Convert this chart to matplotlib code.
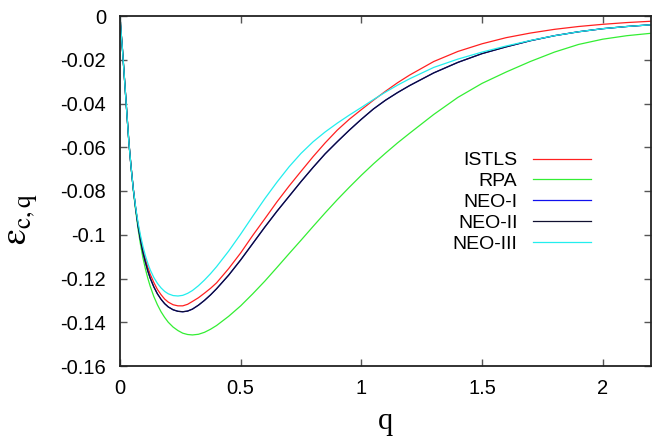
import matplotlib
matplotlib.use("Agg")
import matplotlib.pyplot as plt
from matplotlib.ticker import FixedLocator, FixedFormatter

# ---- data ----
q = [0, 0.005, 0.01, 0.015, 0.02, 0.025, 0.03, 0.037, 0.045, 0.055, 0.065, 0.075,
     0.085, 0.095, 0.105, 0.115, 0.125, 0.14, 0.155, 0.17, 0.185, 0.2, 0.22, 0.24,
     0.26, 0.28, 0.3, 0.325, 0.35, 0.375, 0.4, 0.45, 0.5, 0.55, 0.6, 0.65, 0.7, 0.75,
     0.8, 0.85, 0.9, 0.95, 1.0, 1.05, 1.1, 1.15, 1.2, 1.3, 1.4, 1.5, 1.6, 1.7, 1.8,
     1.9, 2.0, 2.1, 2.2]

istls = [0, -0.008, -0.015, -0.023, -0.031, -0.039, -0.047, -0.058, -0.068, -0.079,
         -0.088, -0.0955, -0.1015, -0.1068, -0.1110, -0.1148, -0.1180, -0.1218, -0.1250,
         -0.1274, -0.1294, -0.1308, -0.1320, -0.1325, -0.1325, -0.1318, -0.1305, -0.1288,
         -0.1267, -0.1245, -0.1220, -0.1155, -0.1083, -0.1003, -0.0927, -0.0850, -0.0778,
         -0.0710, -0.0643, -0.0580, -0.0522, -0.0472, -0.0428, -0.0385, -0.0344, -0.0305,
         -0.0270, -0.0208, -0.0162, -0.0127, -0.0099, -0.0078, -0.0061, -0.0048, -0.0038,
         -0.0030, -0.0024]

rpa = [0, -0.008, -0.015, -0.023, -0.031, -0.039, -0.047, -0.058, -0.068, -0.0795,
       -0.089, -0.0975, -0.1045, -0.1105, -0.1155, -0.1198, -0.1235, -0.1282, -0.1320,
       -0.1352, -0.1378, -0.1400, -0.1422, -0.1438, -0.1450, -0.1456, -0.1458, -0.1455,
       -0.1446, -0.1432, -0.1415, -0.1373, -0.1325, -0.1270, -0.1212, -0.1150, -0.1087,
       -0.1025, -0.0962, -0.0900, -0.0840, -0.0783, -0.0728, -0.0676, -0.0627, -0.0580,
       -0.0536, -0.0450, -0.0372, -0.0308, -0.0256, -0.0208, -0.0165, -0.0130, -0.0106,
       -0.0090, -0.0079]

neo1 = [0, -0.008, -0.015, -0.023, -0.031, -0.039, -0.047, -0.058, -0.068, -0.079,
        -0.088, -0.0960, -0.1025, -0.1080, -0.1125, -0.1165, -0.1198, -0.1238, -0.1270,
        -0.1295, -0.1315, -0.1330, -0.1343, -0.1350, -0.1352, -0.1349, -0.1340, -0.1322,
        -0.1300, -0.1275, -0.1247, -0.1185, -0.1115, -0.1040, -0.0965, -0.0893, -0.0825,
        -0.0757, -0.0692, -0.0630, -0.0575, -0.0522, -0.0472, -0.0425, -0.0385, -0.0350,
        -0.0318, -0.0260, -0.0212, -0.0172, -0.0141, -0.0113, -0.0090, -0.0072, -0.0058,
        -0.0048, -0.0040]

neo2 = [0, -0.008, -0.015, -0.023, -0.031, -0.039, -0.047, -0.058, -0.068, -0.079,
        -0.088, -0.0960, -0.1025, -0.1080, -0.1125, -0.1165, -0.1198, -0.1238, -0.1270,
        -0.1295, -0.1315, -0.1330, -0.1343, -0.1350, -0.1352, -0.1349, -0.1340, -0.1322,
        -0.1300, -0.1275, -0.1247, -0.1185, -0.1115, -0.1040, -0.0965, -0.0893, -0.0825,
        -0.0757, -0.0692, -0.0630, -0.0575, -0.0522, -0.0472, -0.0425, -0.0385, -0.0350,
        -0.0318, -0.0260, -0.0212, -0.0172, -0.0141, -0.0113, -0.0090, -0.0072, -0.0058,
        -0.0048, -0.0040]

neo3 = [0, -0.008, -0.015, -0.023, -0.031, -0.039, -0.047, -0.058, -0.068, -0.079,
        -0.0875, -0.0945, -0.1003, -0.1053, -0.1095, -0.1130, -0.1160, -0.1195, -0.1222,
        -0.1243, -0.1259, -0.1270, -0.1278, -0.1280, -0.1277, -0.1268, -0.1255, -0.1233,
        -0.1207, -0.1178, -0.1146, -0.1075, -0.0997, -0.0915, -0.0835, -0.0760, -0.0690,
        -0.0628, -0.0575, -0.0530, -0.0490, -0.0453, -0.0418, -0.0382, -0.0348, -0.0316,
        -0.0287, -0.0235, -0.0197, -0.0165, -0.0137, -0.0112, -0.0090, -0.0072, -0.0058,
        -0.0048, -0.0040]

labels = ["ISTLS", "RPA", "NEO-I", "NEO-II", "NEO-III"]
colors = ["#ff2020", "#33ee33", "#1010ee", "#101030", "#22eeee"]

xticks = [0, 0.5, 1, 1.5, 2]
xticklabels = ["0", "0.5", "1", "1.5", "2"]
yticks = [0, -0.02, -0.04, -0.06, -0.08, -0.1, -0.12, -0.14, -0.16]
yticklabels = ["0", "-0.02", "-0.04", "-0.06", "-0.08", "-0.1", "-0.12", "-0.14", "-0.16"]

plt.rcParams["font.family"] = ["Liberation Sans", "DejaVu Sans"]
plt.rcParams["mathtext.fontset"] = "stix"

fig = plt.figure(figsize=(6.52, 4.37), dpi=100)
ax = fig.add_axes([120 / 652, 1 - 366 / 437, 531 / 652, 350 / 437])

series = [istls, rpa, neo1, neo2, neo3]
for ys, lab, col in zip(series, labels, colors):
    ax.plot(q, ys, color=col, lw=0.9, label=lab)

ax.set_xlim(0, 2.2)
ax.set_ylim(-0.16, 0)
ax.xaxis.set_major_locator(FixedLocator(xticks))
ax.xaxis.set_major_formatter(FixedFormatter(xticklabels))
ax.yaxis.set_major_locator(FixedLocator(yticks))
ax.yaxis.set_major_formatter(FixedFormatter(yticklabels))
ax.tick_params(direction="in", length=5, width=1, color="#555555",
               top=True, right=True, labelsize=14.5, pad=9)
ax.tick_params(axis="y", pad=10)
for s in ax.spines.values():
    s.set_linewidth(1.3)
    s.set_color("#222222")

ax.set_xlabel("q", fontsize=22, family=["Liberation Serif"], labelpad=7)
ax.set_ylabel(r"$\mathrm{\varepsilon_{c,q}}$", fontsize=26)
ax.yaxis.set_label_coords(-0.150, 0.42)

leg = ax.legend(loc="upper right", bbox_to_anchor=(601 / 652, 1 - 142 / 437),
                bbox_transform=fig.transFigure, frameon=False, markerfirst=False,
                fontsize=14, labelspacing=0.17, handlelength=3.0, handletextpad=0.8,
                borderpad=0)
for t in leg.get_texts():
    t.set_ha("right")

fig.savefig("out.png", dpi=100)
